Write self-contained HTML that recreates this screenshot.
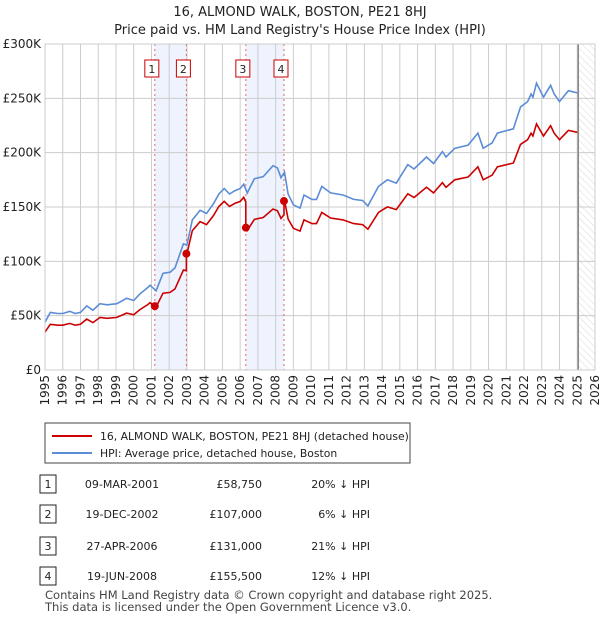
<!DOCTYPE html>
<html><head><meta charset="utf-8"><style>
body{margin:0;background:#fff;font-family:"Liberation Sans","DejaVu Sans",sans-serif;}
svg text{font-family:"DejaVu Sans","Liberation Sans",sans-serif;}
</style></head><body>
<svg id="c" width="600" height="620" xmlns="http://www.w3.org/2000/svg">
<defs><pattern id="hatch" width="5" height="5" patternUnits="userSpaceOnUse" patternTransform="rotate(-45)"><line x1="0" y1="0" x2="0" y2="5" stroke="#d0d0d0" stroke-width="0.8"/></pattern></defs>
<text x="300" y="16" text-anchor="middle" font-size="13" fill="#222">16, ALMOND WALK, BOSTON, PE21 8HJ</text>
<text x="300" y="34" text-anchor="middle" font-size="13" fill="#222">Price paid vs. HM Land Registry's House Price Index (HPI)</text>
<g id="plot"></g>
<g>
<rect x="45" y="423" width="365" height="40" fill="#fff" stroke="#444"/>
<line x1="52" y1="436" x2="92" y2="436" stroke="#cc0000" stroke-width="2"/>
<text x="100" y="440" font-size="10.8" fill="#222">16, ALMOND WALK, BOSTON, PE21 8HJ (detached house)</text>
<line x1="52" y1="453" x2="92" y2="453" stroke="#5b8dd6" stroke-width="2"/>
<text x="100" y="457" font-size="10.8" fill="#222">HPI: Average price, detached house, Boston</text>
</g>
<g id="table"></g>
<text x="45" y="599" font-size="11.5" fill="#444">Contains HM Land Registry data © Crown copyright and database right 2025.</text>
<text x="45" y="611" font-size="11.5" fill="#444">This data is licensed under the Open Government Licence v3.0.</text>
</svg>
<script>
const hpiDates=[1995.0,1995.3,1995.7,1996.0,1996.4,1996.7,1997.0,1997.35,1997.7,1998.1,1998.5,1999.05,1999.6,2000.0,2000.35,2000.8,2000.92,2001.26,2001.65,2002.05,2002.33,2002.8,2003.0,2003.3,2003.74,2004.1,2004.5,2004.8,2005.1,2005.4,2005.7,2006.0,2006.2,2006.4,2006.8,2007.3,2007.85,2008.1,2008.3,2008.5,2008.7,2009.0,2009.37,2009.6,2010.05,2010.3,2010.6,2011.1,2011.8,2012.4,2012.9,2013.2,2013.8,2014.3,2014.8,2015.45,2015.8,2016.5,2016.9,2017.4,2017.6,2018.1,2018.85,2019.4,2019.7,2020.2,2020.5,2021.4,2021.8,2022.2,2022.4,2022.5,2022.7,2023.1,2023.5,2023.7,2024.0,2024.5,2025.0];
const hpiValues=[44,53,52,52,54,52,53,59,55,61,60,61,66,64,70,76,78,73,89,90,94,116,115,138,147,144,153,162,167,162,165,167,171,163,176,178,188,186,177,182,162,152,149,161,157,157,169,163,161,157,156,151,169,175,172,189,185,196,190,201,196,204,207,218,204,209,218,222,242,247,254,251,264,251,262,254,247,257,255];
const saleDates=[2001.19,2002.97,2006.32,2008.47];
const salePrices=[58.75,107,131,155.5];
const saleLabels=["1","2","3","4"];
const saleDateText=["09-MAR-2001","19-DEC-2002","27-APR-2006","19-JUN-2008"];
const salePriceText=["£58,750","£107,000","£131,000","£155,500"];
const salePctText=["20% ↓ HPI","6% ↓ HPI","21% ↓ HPI","12% ↓ HPI"];
const yTicks=[0,50,100,150,200,250,300];
const yTickLabels=["£0","£50K","£100K","£150K","£200K","£250K","£300K"];
const xMin=1995,xMax=2026,yMax=300;
const L=45,R=595,T=44,B=370;
const X=v=>L+(v-xMin)/(xMax-xMin)*(R-L);
const Y=v=>B-v/yMax*(B-T);
const NS="http://www.w3.org/2000/svg";
const plot=document.getElementById('plot');
function mk(tag,attrs,parent){const e=document.createElementNS(NS,tag);for(const k in attrs)e.setAttribute(k,attrs[k]);(parent||plot).appendChild(e);return e;}
function hpiAt(d){for(let i=1;i<hpiDates.length;i++){if(d<=hpiDates[i]){const t=(d-hpiDates[i-1])/(hpiDates[i]-hpiDates[i-1]);return hpiValues[i-1]+t*(hpiValues[i]-hpiValues[i-1]);}}return hpiValues[hpiValues.length-1];}
for(let i=0;i<saleDates.length;i+=2){const r=mk('rect',{x:X(saleDates[i]),y:T,width:X(saleDates[i+1])-X(saleDates[i]),height:B-T,fill:'#eef3fd'});

}
const fh=mk('rect',{x:X(2025.0),y:T,width:R-X(2025.0),height:B-T,fill:'url(#hatch)'});


for(let y=xMin;y<=xMax;y++){const g=mk('line',{x1:X(y),x2:X(y),y1:T,y2:B,stroke:'#ccc','stroke-width':1});


const t=mk('text',{x:0,y:0,'font-size':12,fill:'#222','text-anchor':'end',transform:`translate(${X(y)+4},${B+5}) rotate(-90)`});


t.textContent=y;}
yTicks.forEach((v,i)=>{const g=mk('line',{x1:L,x2:R,y1:Y(v),y2:Y(v),stroke:'#ccc','stroke-width':1});


const t=mk('text',{x:L-4,y:Y(v)+4,'font-size':12,fill:'#222','text-anchor':'end'});


t.textContent=yTickLabels[i];});
const fl=mk('line',{x1:X(2025.0)+1,x2:X(2025.0)+1,y1:T,y2:B,stroke:'#888','stroke-width':1.5});


saleDates.forEach((d,i)=>{const l=mk('line',{x1:X(d),x2:X(d),y1:T,y2:B,stroke:'#e06666','stroke-width':1,'stroke-dasharray':'2,3'});


const bx=mk('rect',{x:X(d)-10,y:60,width:14,height:17,fill:'#fff',stroke:'#cc0000'});


const t=mk('text',{x:X(d)-3,y:73,'font-size':11,'text-anchor':'middle',fill:'#222'});


t.textContent=saleLabels[i];});
const hp=mk('path',{d:hpiDates.map((d,i)=>(i?'L':'M')+X(d).toFixed(1)+','+Y(hpiValues[i]).toFixed(1)).join(''),fill:'none',stroke:'#5b8dd6','stroke-width':1.6});


const ratios=saleDates.map((d,i)=>salePrices[i]/hpiAt(d));
function ratioFor(d){let r=ratios[0];saleDates.forEach((s,i)=>{if(d>=s)r=ratios[i];});return r;}
let pts=[];
const all=hpiDates.map((d,i)=>({d,v:hpiValues[i]}));
saleDates.forEach((s,i)=>{all.push({d:s,v:hpiAt(s),pre:i>0?ratios[i-1]:ratios[0]});});
all.sort((a,b)=>a.d-b.d);
all.forEach(p=>{if(p.pre!==undefined)pts.push([p.d,p.v*p.pre]);pts.push([p.d,p.v*ratioFor(p.d)]);});
const pp=mk('path',{d:pts.map((p,i)=>(i?'L':'M')+X(p[0]).toFixed(1)+','+Y(p[1]).toFixed(1)).join(''),fill:'none',stroke:'#cc0000','stroke-width':1.6});


saleDates.forEach((d,i)=>{const c=mk('circle',{cx:X(d),cy:Y(salePrices[i]),r:4,fill:'#cc0000'});

});
const ax=mk('rect',{x:L,y:T,width:R-L,height:B-T,fill:'none',stroke:'#ccc'});


const tb=document.getElementById('table');
const rowY=[484,514,546,576];
saleDates.forEach((d,i)=>{const y=rowY[i];
const b=mk('rect',{x:40,y:y-9,width:16,height:18,fill:'#fff',stroke:'#222'},tb);


const cells=[[48,'middle',saleLabels[i]],[122,'middle',saleDateText[i]],[262,'end',salePriceText[i]],[370,'end',salePctText[i]]];
cells.forEach(c=>{const t=mk('text',{x:c[0],y:y+4,'font-size':11,fill:'#222','text-anchor':c[1]},tb);


t.textContent=c[2];});});
</script>
</body></html>
